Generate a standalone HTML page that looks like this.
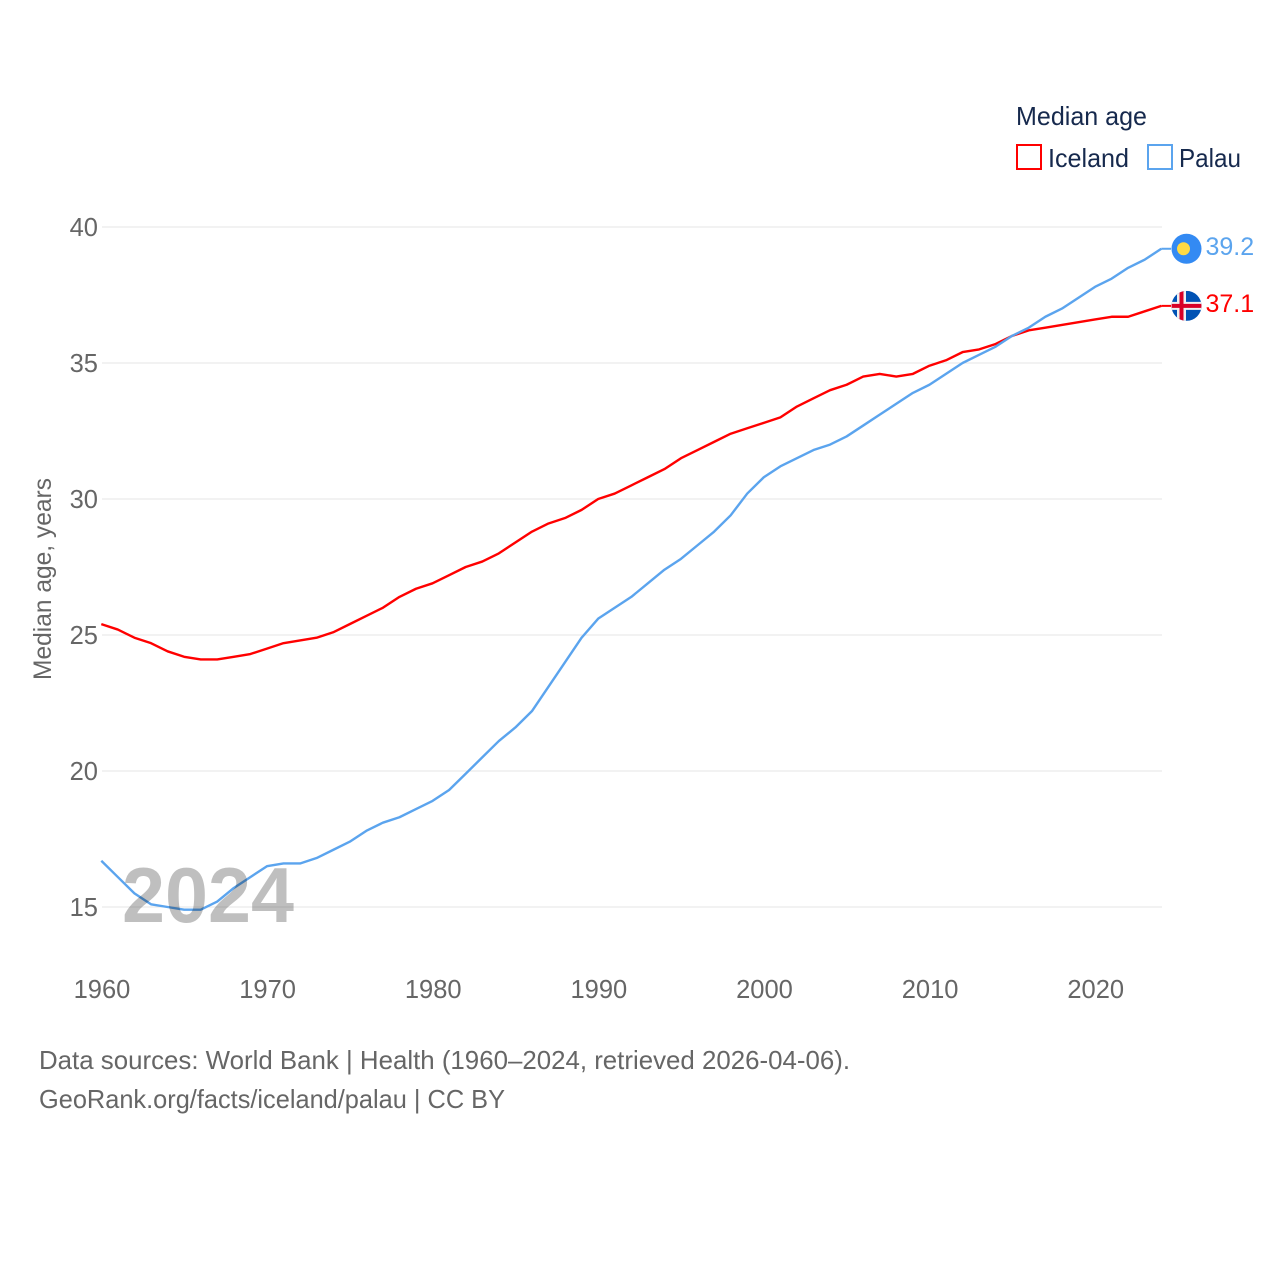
<!DOCTYPE html>
<html lang="en">
<head>
<meta charset="utf-8">
<title>Median age: Iceland and Palau</title>
<style>
html,body{margin:0;padding:0;background:#fff;}
svg{display:block;font-family:"Liberation Sans",sans-serif;}
</style>
</head>
<body>
<svg id="chart" width="1280" height="1280" viewBox="0 0 1280 1280" xmlns="http://www.w3.org/2000/svg">
  <defs>
    <clipPath id="iceland-clip"><circle id="iceland-clip-circle" cx="1186.5" cy="306" r="15"></circle></clipPath>
  </defs>
  <rect width="1280" height="1280" fill="#ffffff"></rect>
  <g id="grid"></g>
  <g id="y-ticks"></g>
  <g id="x-ticks"></g>
  <text transform="translate(51 579) rotate(-90)" text-anchor="middle" font-size="25" fill="#666666" textLength="202" lengthAdjust="spacingAndGlyphs">Median age, years</text>
  <g id="series"></g>
  <text x="122" y="922" font-size="78" font-weight="700" fill="#000000" fill-opacity="0.25" textLength="172" lengthAdjust="spacingAndGlyphs">2024</text>
  <g id="end-markers"></g>

  <g>
    <text x="1016" y="125" font-size="26" fill="#16294d" textLength="131" lengthAdjust="spacingAndGlyphs">Median age</text>
    <g>
      <rect x="1017" y="145" width="24" height="24" fill="#ffffff" stroke="#ff0000" stroke-width="2"></rect>
      <text x="1048" y="167" font-size="26" fill="#16294d" textLength="81" lengthAdjust="spacingAndGlyphs">Iceland</text>
    </g>
    <g>
      <rect x="1148" y="145" width="24" height="24" fill="#ffffff" stroke="#5ba4ee" stroke-width="2"></rect>
      <text x="1179" y="167" font-size="26" fill="#16294d" textLength="62" lengthAdjust="spacingAndGlyphs">Palau</text>
    </g>
  </g>

  <text x="39" y="1069" font-size="26" fill="#666666" textLength="811" lengthAdjust="spacingAndGlyphs">Data sources: World Bank | Health (1960–2024, retrieved 2026-04-06).</text>
  <text x="39" y="1108" font-size="26" fill="#666666" textLength="466" lengthAdjust="spacingAndGlyphs">GeoRank.org/facts/iceland/palau | CC BY</text>
</svg>
<script>
const years = [1960,1961,1962,1963,1964,1965,1966,1967,1968,1969,1970,1971,1972,1973,1974,1975,1976,1977,1978,1979,1980,1981,1982,1983,1984,1985,1986,1987,1988,1989,1990,1991,1992,1993,1994,1995,1996,1997,1998,1999,2000,2001,2002,2003,2004,2005,2006,2007,2008,2009,2010,2011,2012,2013,2014,2015,2016,2017,2018,2019,2020,2021,2022,2023,2024];
const icelandValues = [25.4,25.2,24.9,24.7,24.4,24.2,24.1,24.1,24.2,24.3,24.5,24.7,24.8,24.9,25.1,25.4,25.7,26.0,26.4,26.7,26.9,27.2,27.5,27.7,28.0,28.4,28.8,29.1,29.3,29.6,30.0,30.2,30.5,30.8,31.1,31.5,31.8,32.1,32.4,32.6,32.8,33.0,33.4,33.7,34.0,34.2,34.5,34.6,34.5,34.6,34.9,35.1,35.4,35.5,35.7,36.0,36.2,36.3,36.4,36.5,36.6,36.7,36.7,36.9,37.1];
const palauValues = [16.7,16.1,15.5,15.1,15.0,14.9,14.9,15.2,15.7,16.1,16.5,16.6,16.6,16.8,17.1,17.4,17.8,18.1,18.3,18.6,18.9,19.3,19.9,20.5,21.1,21.6,22.2,23.1,24.0,24.9,25.6,26.0,26.4,26.9,27.4,27.8,28.3,28.8,29.4,30.2,30.8,31.2,31.5,31.8,32.0,32.3,32.7,33.1,33.5,33.9,34.2,34.6,35.0,35.3,35.6,36.0,36.3,36.7,37.0,37.4,37.8,38.1,38.5,38.8,39.2];
const yTickValues = [15,20,25,30,35,40];
const xTickValues = [1960,1970,1980,1990,2000,2010,2020];

const NS = 'http://www.w3.org/2000/svg';
const xScale = function (year) { return 101.3 + (year - 1960) * (1161.3 - 101.3) / 64; };
const yScale = function (value) { return 907 - (value - 15) * (907 - 227) / 25; };
const RED = '#ff0000';
const BLUE = '#5ba4ee';

function make(tag, attrs, parent, text) {
  const el = document.createElementNS(NS, tag);
  for (const k in attrs) { el.setAttribute(k, attrs[k]); }
  if (text !== undefined) { el.textContent = text; }
  parent.appendChild(el);
  return el;
}

const gridGroup = document.getElementById('grid');
const yTickGroup = document.getElementById('y-ticks');
yTickValues.forEach(function (v) {
  const line = make('line', {x1: 102, x2: 1162, y1: yScale(v), y2: yScale(v), stroke: '#e6e6e6', 'stroke-width': 1}, gridGroup);
  
  
  const label = make('text', {x: 98, y: yScale(v) + 9, 'text-anchor': 'end', 'font-size': 25.5, fill: '#666666'}, yTickGroup, String(v));
  
  
});

const xTickGroup = document.getElementById('x-ticks');
xTickValues.forEach(function (y) {
  const label = make('text', {x: xScale(y) + 0.7, y: 998, 'text-anchor': 'middle', 'font-size': 25.5, fill: '#666666'}, xTickGroup, String(y));
  
  
});

function linePoints(values) {
  return values.map(function (v, i) { return xScale(years[i]).toFixed(2) + ',' + yScale(v).toFixed(2); }).join(' ');
}

const seriesGroup = document.getElementById('series');
const icelandLine = make('polyline', {points: linePoints(icelandValues), fill: 'none', stroke: RED, 'stroke-width': 2.4, 'stroke-linejoin': 'round'}, seriesGroup);


const palauLine = make('polyline', {points: linePoints(palauValues), fill: 'none', stroke: BLUE, 'stroke-width': 2.4, 'stroke-linejoin': 'round'}, seriesGroup);



const markers = document.getElementById('end-markers');
const lastX = xScale(years[years.length - 1]);
const palauLast = palauValues[palauValues.length - 1];
const icelandLast = icelandValues[icelandValues.length - 1];
const palauY = yScale(palauLast);
const icelandY = yScale(icelandLast);

const palauConnector = make('line', {x1: lastX, x2: 1171, y1: palauY, y2: palauY, stroke: BLUE, 'stroke-width': 2}, markers);


const icelandConnector = make('line', {x1: lastX, x2: 1171, y1: icelandY, y2: icelandY, stroke: RED, 'stroke-width': 2}, markers);



const palauFlag = make('g', {}, markers);


make('circle', {cx: 1186.5, cy: palauY, r: 15, fill: '#338af3'}, palauFlag);
make('circle', {cx: 1183.5, cy: palauY, r: 6.5, fill: '#ffda44'}, palauFlag);

document.getElementById('iceland-clip-circle').setAttribute('cy', icelandY);
const icelandFlag = make('g', {'clip-path': 'url(#iceland-clip)'}, markers);


make('rect', {x: 1171, y: icelandY - 15, width: 31, height: 30, fill: '#0052b4'}, icelandFlag);
make('rect', {x: 1171, y: icelandY - 4, width: 31, height: 8, fill: '#f0f0f0'}, icelandFlag);
make('rect', {x: 1177, y: icelandY - 15, width: 9, height: 30, fill: '#f0f0f0'}, icelandFlag);
make('rect', {x: 1171, y: icelandY - 2, width: 31, height: 4, fill: '#d80027'}, icelandFlag);
make('rect', {x: 1179.5, y: icelandY - 15, width: 4, height: 30, fill: '#d80027'}, icelandFlag);

const palauValueLabel = make('text', {x: 1205.5, y: palauY + 6, 'font-size': 25, fill: BLUE}, markers, palauLast.toFixed(1));


const icelandValueLabel = make('text', {x: 1205.5, y: icelandY + 6, 'font-size': 25, fill: RED}, markers, icelandLast.toFixed(1));


</script>
</body>
</html>
